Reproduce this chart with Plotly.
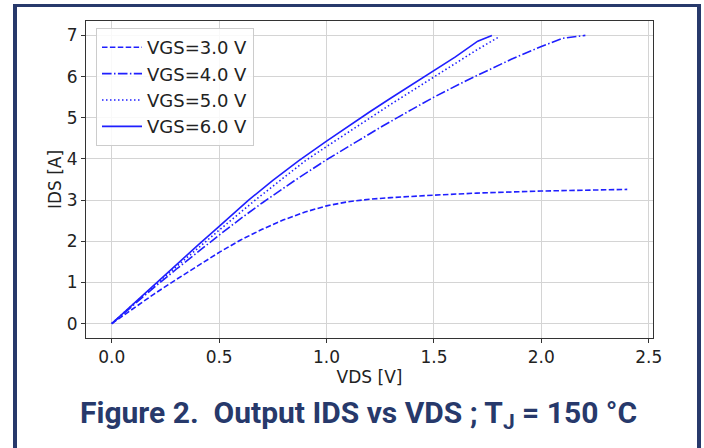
import plotly.graph_objects as go

# Output characteristics IDS vs VDS at TJ = 150 °C
vds_3v = [0, 0.1, 0.2, 0.3, 0.4, 0.5, 0.6, 0.7, 0.8, 0.9, 1.0, 1.1, 1.2, 1.3, 1.5, 1.7, 2.0, 2.2, 2.4]
ids_3v = [0, 0.37, 0.73, 1.07, 1.41, 1.73, 2.03, 2.29, 2.52, 2.71, 2.86, 2.96, 3.02, 3.06, 3.12, 3.17, 3.22, 3.24, 3.26]

vds_4v = [0, 0.1, 0.2, 0.3, 0.4, 0.5, 0.6, 0.70, 0.85, 1.0, 1.15, 1.252, 1.4, 1.5, 1.65, 1.774, 1.86, 2.0, 2.1, 2.205]
ids_4v = [0, 0.45, 0.89, 1.32, 1.74, 2.15, 2.55, 2.93, 3.47, 3.98, 4.45, 4.77, 5.21, 5.5, 5.9, 6.21, 6.42, 6.73, 6.93, 7.0]

vds_5v = [0, 0.1, 0.2, 0.3, 0.4, 0.5, 0.668, 0.78, 0.902, 1.0, 1.1, 1.2, 1.3, 1.4, 1.478, 1.6, 1.7, 1.805]
ids_5v = [0, 0.47, 0.93, 1.38, 1.83, 2.27, 3.0, 3.47, 3.96, 4.3, 4.65, 4.99, 5.33, 5.66, 5.92, 6.32, 6.65, 6.97]

vds_6v = [0, 0.1, 0.2, 0.3, 0.4, 0.5, 0.637, 0.75, 0.871, 1.0, 1.1, 1.2, 1.3, 1.447, 1.5, 1.6, 1.704, 1.77]
ids_6v = [0, 0.48, 0.96, 1.43, 1.9, 2.36, 3.0, 3.48, 3.96, 4.43, 4.79, 5.14, 5.48, 5.97, 6.15, 6.48, 6.86, 7.0]

series_names = ["VGS=3.0 V", "VGS=4.0 V", "VGS=5.0 V", "VGS=6.0 V"]

x_ticks = [0, 0.5, 1.0, 1.5, 2.0, 2.5]
x_tick_labels = ["0.0", "0.5", "1.0", "1.5", "2.0", "2.5"]
y_ticks = [0, 1, 2, 3, 4, 5, 6, 7]

BLUE = "#1f1fff"
NAVY = "#27396b"
TICK_FONT = dict(family="DejaVu Sans", size=17, color="#222222")
LEGEND_FONT = dict(family="DejaVu Sans", size=18, color="#222222")

# plot-area geometry in pixels (used to place the frame and caption)
W, H = 704, 448
L, R, T, B = 86, 51, 21, 110
PW, PH = W - L - R, H - T - B


def px_x(px):
    return (px - L) / PW


def px_y(py):
    return (H - B - py) / PH


dash_styles = ["5.5px,2.4px", "9.6px,2.4px,1.5px,2.4px", "1.5px,2.5px", "solid"]
curves = [(vds_3v, ids_3v), (vds_4v, ids_4v), (vds_5v, ids_5v), (vds_6v, ids_6v)]

fig = go.Figure()
for (xs, ys), name, dash in zip(curves, series_names, dash_styles):
    fig.add_trace(go.Scatter(
        x=xs, y=ys, mode="lines", name=name,
        line=dict(color=BLUE, width=1.6, dash=dash),
    ))

axis_common = dict(
    showgrid=True, gridcolor="#d4d4d4", gridwidth=1,
    showline=True, linecolor="#333333", linewidth=1, mirror=True,
    ticks="outside", ticklen=4, tickcolor="#333333", tickwidth=1,
    tickfont=TICK_FONT, zeroline=False,
)

fig.update_layout(
    width=W, height=H,
    margin=dict(l=L, r=R, t=T, b=B),
    paper_bgcolor="white", plot_bgcolor="white",
    xaxis=dict(range=[-0.12, 2.52], tickvals=x_ticks, ticktext=x_tick_labels,
               title=dict(text="VDS [V]", font=TICK_FONT, standoff=1), **axis_common),
    yaxis=dict(range=[-0.35, 7.35], tickvals=y_ticks,
               title=dict(text="IDS [A]", font=TICK_FONT, standoff=0), **axis_common),
    legend=dict(
        x=px_x(96), y=px_y(28), xanchor="left", yanchor="top",
        bgcolor="rgba(255,255,255,0.85)", bordercolor="#cccccc", borderwidth=1,
        font=LEGEND_FONT, itemwidth=40,
    ),
    showlegend=True,
)

# dark frame around the figure (open at the bottom)
frame = [
    (13, 4, 17, H + 5),
    (13, 4, 701, 7),
    (697, 4, 701, H + 5),
]
for x0, y0, x1, y1 in frame:
    fig.add_shape(type="rect", xref="paper", yref="paper",
                  x0=px_x(x0), x1=px_x(x1), y0=px_y(y0), y1=px_y(y1),
                  fillcolor=NAVY, line=dict(width=0), layer="above")

fig.add_annotation(
    xref="paper", yref="paper", x=px_x(358), y=px_y(414),
    xanchor="center", yanchor="middle", showarrow=False,
    text="<b>Figure 2.  Output IDS vs VDS ; T<sub>J</sub> = 150 °C</b>",
    font=dict(family="Roboto, sans-serif", size=30, color=NAVY),
)

fig.write_html("out.html")
